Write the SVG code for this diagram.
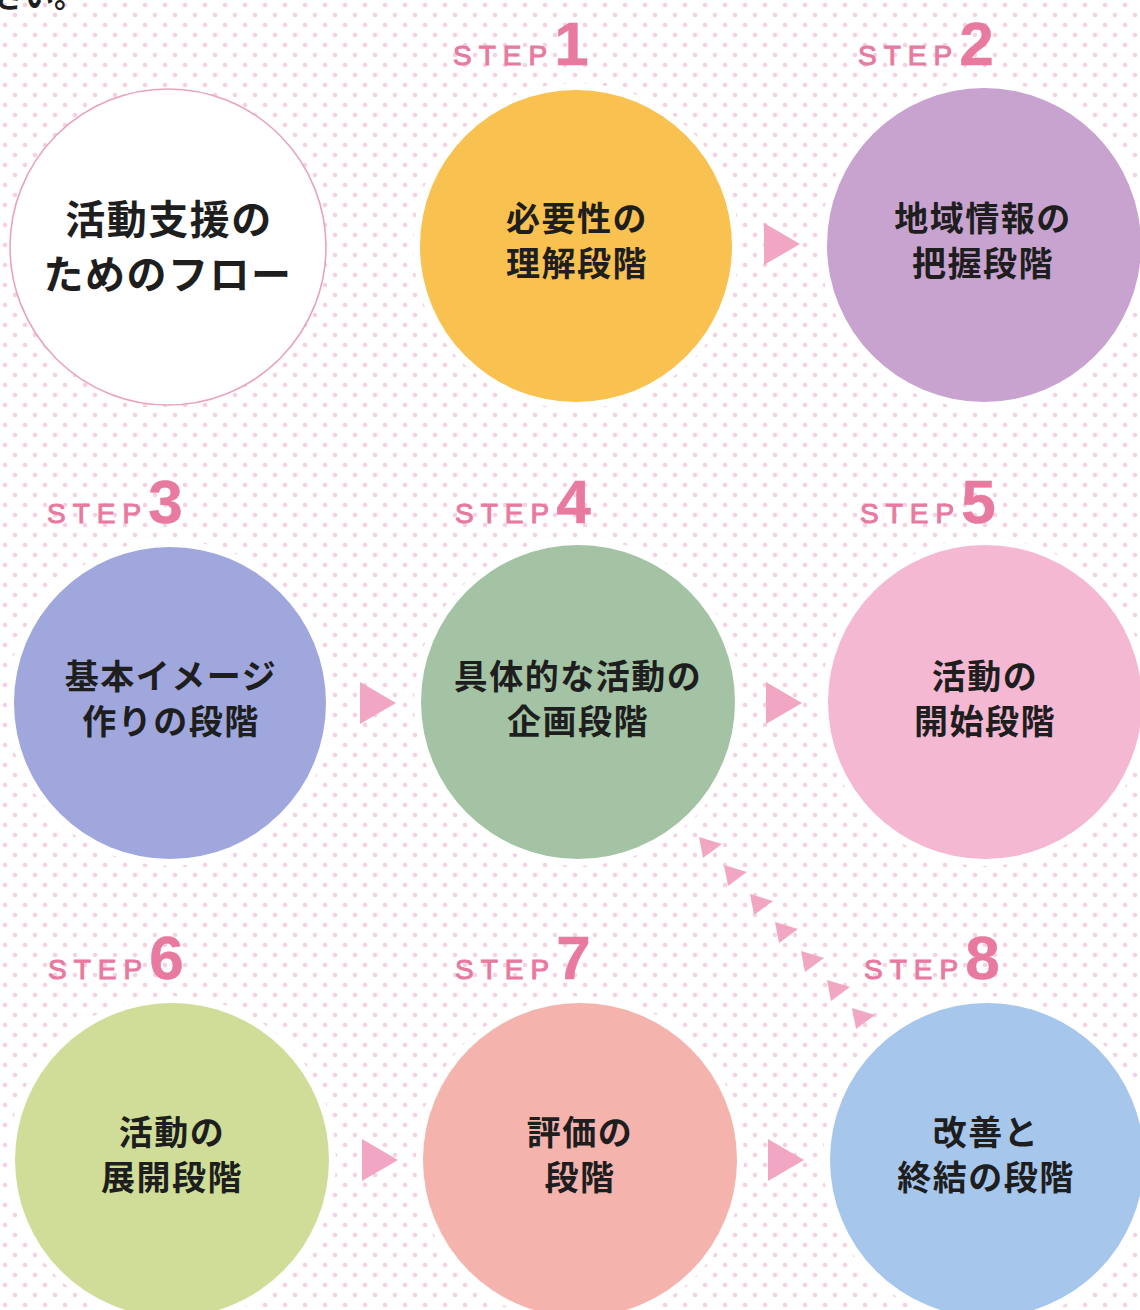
<svg xmlns="http://www.w3.org/2000/svg" xmlns:xlink="http://www.w3.org/1999/xlink" width="1140" height="1310" viewBox="0 0 1140 1310">
  <defs>
    <pattern id="dots" x="0" y="0" width="20" height="20" patternUnits="userSpaceOnUse">
      <circle cx="5" cy="5" r="2.3" fill="#f6cfe1"/>
      <circle cx="15" cy="15" r="2.3" fill="#f4d0e4"/>
    </pattern>
    <polygon id="tri" points="0,0 36,21 0,42" fill="#f1a7c4"/>
    <polygon id="mini" points="0,0 23,7 4,21" fill="#f1a7c4"/>
    <style>
      .halo { fill: #ffffff; }
      .lbl { font-family: "Liberation Sans", Arial, sans-serif; font-size: 28px; letter-spacing: 7px; fill: #e8799f; stroke: #e8799f; stroke-width: 1; }
      .num { font-size: 62px; font-weight: bold; letter-spacing: 0; stroke-width: 0.5; }
      .ct { font-family: "Noto Sans CJK JP", "Noto Sans CJK SC", sans-serif; font-weight: bold; font-size: 34px; fill: #1e1e1e; text-anchor: middle; letter-spacing: 1.5px; }
      .it { font-family: "Noto Sans CJK JP", "Noto Sans CJK SC", sans-serif; font-weight: bold; font-size: 40px; fill: #1e1e1e; text-anchor: middle; letter-spacing: 1.5px; }
    </style>
  </defs>

  <rect width="1140" height="1310" fill="#ffffff"/>
  <rect width="1140" height="1310" fill="url(#dots)"/>

  <text x="-6" y="7" font-family="Noto Sans CJK JP, sans-serif" font-size="30" font-weight="bold" fill="#1e1e1e">さい。</text>

  <g id="intro">
    <circle cx="168" cy="247" r="158" fill="#ffffff" stroke="#e9a3bf" stroke-width="1.6"/>
    <text class="it" x="169" y="234">活動支援の</text>
    <text class="it" x="168" y="289">ためのフロー</text>
  </g>

  <g id="step1">
    <circle class="halo" cx="576" cy="246" r="163"/>
    <circle cx="576" cy="246" r="156" fill="#f8c150"/>
    <text class="lbl" x="453" y="65">STEP<tspan class="num">1</tspan></text>
    <text class="ct" x="577" y="231">必要性の</text>
    <text class="ct" x="577" y="276">理解段階</text>
  </g>

  <g id="step2">
    <circle class="halo" cx="984" cy="245" r="164"/>
    <circle cx="984" cy="245" r="157" fill="#c8a3cf"/>
    <text class="lbl" x="858" y="65">STEP<tspan class="num">2</tspan></text>
    <text class="ct" x="983" y="231">地域情報の</text>
    <text class="ct" x="983" y="276">把握段階</text>
  </g>

  <g id="step3">
    <circle class="halo" cx="170" cy="703" r="163"/>
    <circle cx="170" cy="703" r="156" fill="#a0a7dd"/>
    <text class="lbl" x="47" y="523">STEP<tspan class="num">3</tspan></text>
    <text class="ct" x="171" y="689">基本イメージ</text>
    <text class="ct" x="171" y="734">作りの段階</text>
  </g>

  <g id="step4">
    <circle class="halo" cx="578" cy="702" r="164"/>
    <circle cx="578" cy="702" r="157" fill="#a3c3a4"/>
    <text class="lbl" x="455" y="523">STEP<tspan class="num">4</tspan></text>
    <text class="ct" x="578" y="689">具体的な活動の</text>
    <text class="ct" x="578" y="734">企画段階</text>
  </g>

  <g id="step5">
    <circle class="halo" cx="985" cy="702" r="164"/>
    <circle cx="985" cy="702" r="157" fill="#f4b8d2"/>
    <text class="lbl" x="860" y="523">STEP<tspan class="num">5</tspan></text>
    <text class="ct" x="985" y="689">活動の</text>
    <text class="ct" x="985" y="734">開始段階</text>
  </g>

  <g id="step6">
    <circle class="halo" cx="172" cy="1160" r="164"/>
    <circle cx="172" cy="1160" r="157" fill="#cfdd98"/>
    <text class="lbl" x="48" y="979">STEP<tspan class="num">6</tspan></text>
    <text class="ct" x="172" y="1145">活動の</text>
    <text class="ct" x="172" y="1190">展開段階</text>
  </g>

  <g id="step7">
    <circle class="halo" cx="580" cy="1160" r="164"/>
    <circle cx="580" cy="1160" r="157" fill="#f5b3ae"/>
    <text class="lbl" x="455" y="979">STEP<tspan class="num">7</tspan></text>
    <text class="ct" x="580" y="1145">評価の</text>
    <text class="ct" x="580" y="1190">段階</text>
  </g>

  <g id="step8">
    <circle class="halo" cx="987" cy="1160" r="164"/>
    <circle cx="987" cy="1160" r="157" fill="#a6c6ec"/>
    <text class="lbl" x="864" y="979">STEP<tspan class="num">8</tspan></text>
    <text class="ct" x="986" y="1145">改善と</text>
    <text class="ct" x="986" y="1190">終結の段階</text>
  </g>

  <g id="connectors">
    <use xlink:href="#tri" x="764" y="223"/>
    <use xlink:href="#tri" x="360" y="682"/>
    <use xlink:href="#tri" x="766" y="682"/>
    <use xlink:href="#tri" x="362" y="1139"/>
    <use xlink:href="#tri" x="768" y="1139"/>
    <use xlink:href="#mini" x="699" y="837"/>
    <use xlink:href="#mini" x="724" y="865"/>
    <use xlink:href="#mini" x="750" y="894"/>
    <use xlink:href="#mini" x="775" y="922"/>
    <use xlink:href="#mini" x="801" y="951"/>
    <use xlink:href="#mini" x="827" y="980"/>
    <use xlink:href="#mini" x="852" y="1008"/>
  </g>
</svg>
